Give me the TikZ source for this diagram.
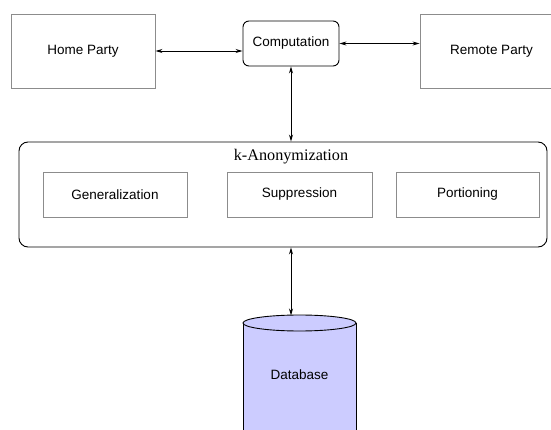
\documentclass[tikz,border=0pt]{standalone}
\usepackage{fontspec}
\setmainfont{Liberation Sans}
\newfontfamily\titlefont{Liberation Serif}
\usetikzlibrary{arrows.meta}
\definecolor{boxgray}{HTML}{8C8C8C}
\definecolor{dbfill}{HTML}{CCCCFF}
\tikzset{
  plainbox/.style={draw=boxgray, line width=0.9pt, font=\fontsize{13.5}{16}\selectfont, inner sep=0pt},
  roundbox/.style={draw=black, line width=0.9pt, rounded corners=6pt, font=\fontsize{13.5}{16}\selectfont, inner sep=0pt},
  biarrow/.style={draw=black, line width=0.9pt, {Stealth[length=7pt,width=4pt]}-{Stealth[length=7pt,width=4pt]}},
  label/.style={inner sep=0pt, font=\fontsize{13.5}{16}\selectfont}
}
\begin{document}
\begin{tikzpicture}[x=1pt, y=-1pt]
\useasboundingbox (0,0) rectangle (551,430);
\clip (0,0) rectangle (551,430);

% parties and computation
\node[plainbox, minimum width=144pt, minimum height=74pt] (home) at (83,51) {Home Party};
\node[roundbox, minimum width=96pt, minimum height=45pt] (comp) at (291,43.5) {Computation};
\node[plainbox, minimum width=143pt, minimum height=74pt] (remote) at (491.5,51) {Remote Party};

% anonymization block
\node[roundbox, rounded corners=9pt, minimum width=528pt, minimum height=105pt] (kanon) at (283,194.5) {};
\node[inner sep=0pt, font=\titlefont\fontsize{16.2}{19}\selectfont] (ktitle) at (291,157) {k-Anonymization};
\node[plainbox, minimum width=144pt, minimum height=45pt] (gen) at (115,194.5) {Generalization};
\node[plainbox, minimum width=145pt, minimum height=45pt] (supp) at (299.5,194.5) {Suppression};
\node[plainbox, minimum width=143pt, minimum height=45pt] (port) at (467.5,194.5) {Portioning};

% database cylinder
\fill[dbfill] (243,323) rectangle (356,440);
\draw[line width=0.9pt] (243,323) -- (243,440);
\draw[line width=0.9pt] (356,323) -- (356,440);
\draw[line width=0.9pt, fill=dbfill] (299.5,323) ellipse [x radius=56.5pt, y radius=8pt];
\coordinate (dbtop) at (291,315.5);
\node[label] (db) at (299.5,375) {Database};

% connectors
\draw[biarrow] (home.east) -- (comp.west |- home.east);
\draw[biarrow] (comp.east) -- (remote.west |- comp.east);
\draw[biarrow] (comp.south) -- (comp.south |- kanon.north);
\draw[biarrow] (kanon.south -| comp.south) -- (dbtop);
\end{tikzpicture}
\end{document}
